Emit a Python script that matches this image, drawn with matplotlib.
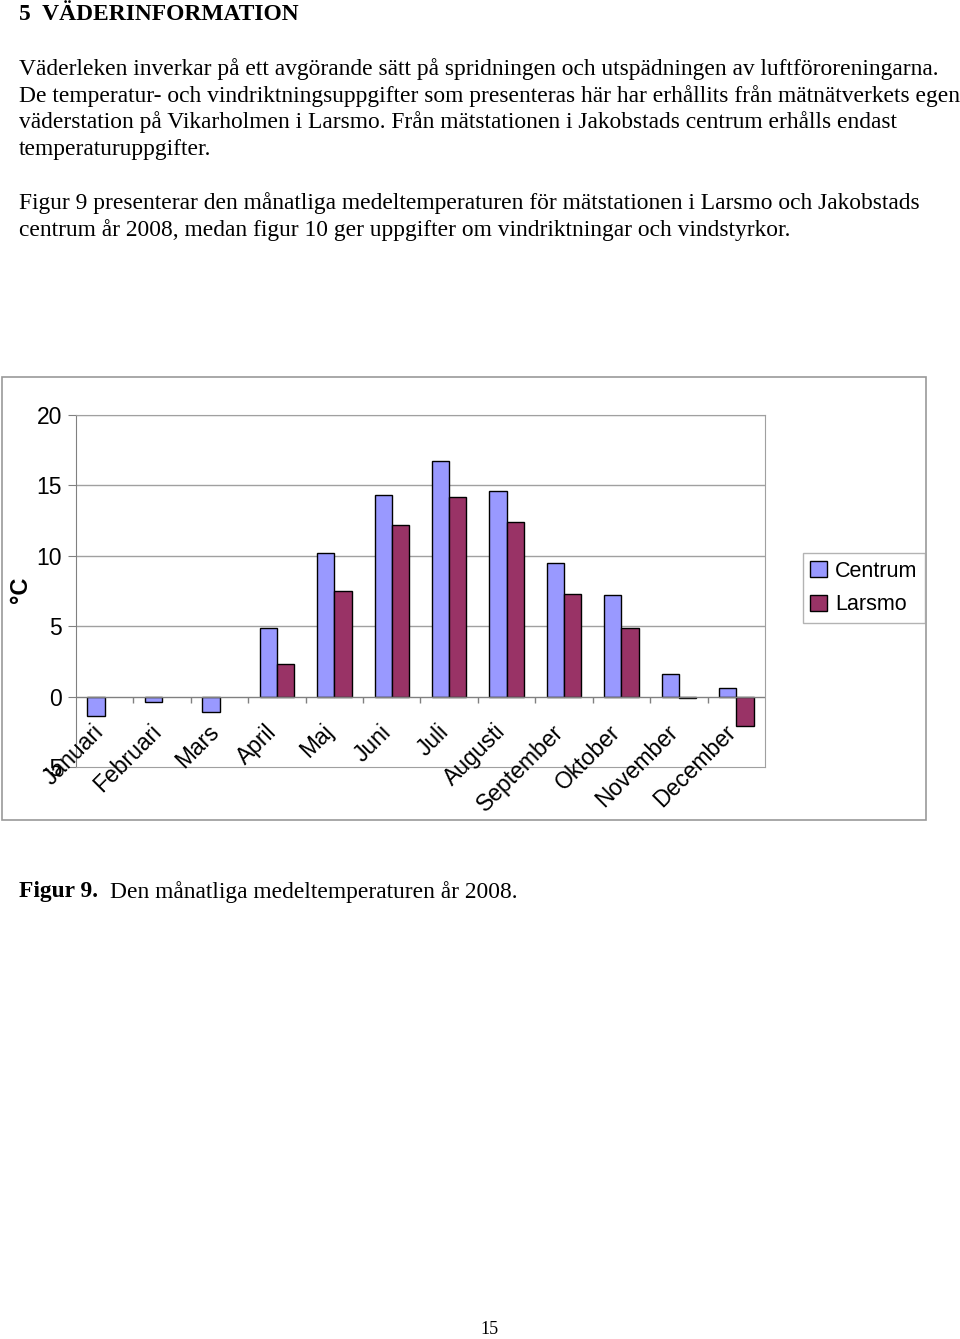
import numpy as np
import matplotlib
matplotlib.use("Agg")
import matplotlib.pyplot as plt
from matplotlib.patches import Rectangle

months = ["Januari", "Februari", "Mars", "April", "Maj", "Juni", "Juli",
          "Augusti", "September", "Oktober", "November", "December"]
centrum = [-1.4, -0.4, -1.1, 4.9, 10.2, 14.3, 16.7, 14.6, 9.5, 7.2, 1.6, 0.6]
larsmo = [np.nan, np.nan, np.nan, 2.3, 7.5, 12.2, 14.2, 12.4, 7.3, 4.9, -0.1, -2.1]
yticks = [-5, 0, 5, 10, 15, 20]

W, H = 960, 1339
fig = plt.figure(figsize=(W / 100, H / 100), dpi=100)

def fx(px):
    return px / W

def fy(py):
    return 1 - py / H

serif = "Liberation Serif"
sans = "Liberation Sans"
fs = 16.9

# page text
fig.text(fx(19), fy(15), "5  VÄDERINFORMATION", family=serif, weight="bold",
         fontsize=fs, va="center")
para1 = ["Väderleken inverkar på ett avgörande sätt på spridningen och utspädningen av luftföroreningarna.",
         "De temperatur- och vindriktningsuppgifter som presenteras här har erhållits från mätnätverkets egen",
         "väderstation på Vikarholmen i Larsmo. Från mätstationen i Jakobstads centrum erhålls endast",
         "temperaturuppgifter."]
para2 = ["Figur 9 presenterar den månatliga medeltemperaturen för mätstationen i Larsmo och Jakobstads",
         "centrum år 2008, medan figur 10 ger uppgifter om vindriktningar och vindstyrkor."]
for i, line in enumerate(para1):
    fig.text(fx(19), fy(69 + i * 26.7), line, family=serif, fontsize=fs, va="center")
for i, line in enumerate(para2):
    fig.text(fx(19), fy(203 + i * 26.7), line, family=serif, fontsize=fs, va="center")

fig.text(fx(19), fy(892), "Figur 9.", family=serif, weight="bold", fontsize=fs, va="center")
fig.text(fx(110), fy(892), "Den månatliga medeltemperaturen år 2008.", family=serif,
         fontsize=fs, va="center")
fig.text(fx(489), fy(1330), "15", family=serif, fontsize=13, ha="center", va="center")

# chart frame
fig.patches.append(Rectangle((fx(2), fy(820)), fx(926) - fx(2), fy(377) - fy(820),
                             transform=fig.transFigure, fill=False,
                             edgecolor="#999999", linewidth=1.2))

ax = fig.add_axes([fx(76), fy(767), fx(765) - fx(76), fy(415) - fy(767)])
x = np.arange(len(months))
w = 0.3
ax.bar(x - w / 2, centrum, w, color="#9999FF", edgecolor="black", linewidth=1, label="Centrum", zorder=3)
ax.bar(x + w / 2, larsmo, w, color="#993366", edgecolor="black", linewidth=1, label="Larsmo", zorder=3)

ax.set_xlim(-0.5, len(months) - 0.5)
ax.set_ylim(-5, 20)
ax.set_yticks(yticks)
ax.set_yticklabels([str(t) for t in yticks], family=sans, fontsize=16.5)
ax.tick_params(axis="y", length=6, color="#808080", pad=4)
ax.set_xticks([])
for t in yticks[2:]:
    ax.axhline(t, color="#A0A0A0", linewidth=1, zorder=1)
ax.axhline(0, color="#808080", linewidth=1, zorder=4)
ax.vlines(x[:-1] + 0.5, -0.42, 0, color="#808080", linewidth=1, zorder=4)
for s in ax.spines.values():
    s.set_color("#A0A0A0")
ax.spines["left"].set_color("#808080")

for i, m in enumerate(months):
    ax.annotate(m, (i, 0), xytext=(-9, -17), textcoords="offset points", rotation=45,
                ha="right", va="top", rotation_mode="anchor", family=sans, fontsize=16.5,
                annotation_clip=False)

fig.text(fx(20), fy(590), "°C", family=sans, weight="bold", fontsize=17,
         rotation=90, ha="center", va="center")

leg = fig.legend(loc="center", bbox_to_anchor=(fx(864), fy(588)), prop={"family": sans, "size": 15.5},
                 handlelength=0.75, handleheight=0.75, handletextpad=0.4, borderpad=0.35,
                 labelspacing=0.6, fancybox=False, frameon=True)
leg.get_frame().set_edgecolor("#A0A0A0")
leg.get_frame().set_linewidth(1)

plt.savefig("out.png", dpi=100)
